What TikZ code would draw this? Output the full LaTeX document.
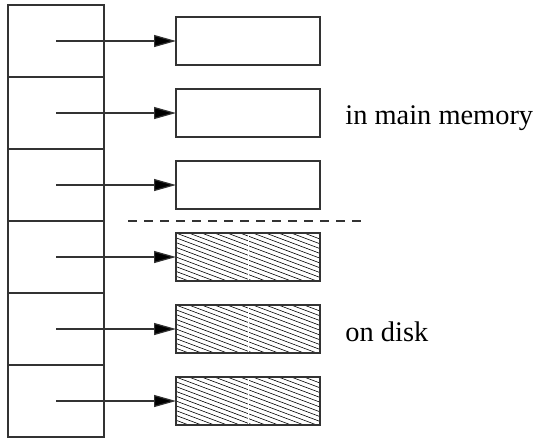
\documentclass[tikz,border=0pt]{standalone}
\usepackage{fontspec}
\setmainfont{Liberation Serif}
\usepackage{tikz}
\usetikzlibrary{arrows.meta, positioning}

\begin{document}
\begin{tikzpicture}[
  x=0.5pt, y=-0.5pt,
  every node/.style={font=\fontsize{14.2}{17}\selectfont},
  cell/.style={draw, black!80, line width=0.6pt, minimum width=48pt, minimum height=36pt,
    inner sep=0pt, outer sep=0pt},
  block/.style={draw, black!80, line width=0.6pt, minimum width=72pt, minimum height=24pt,
    inner sep=0pt, outer sep=0pt},
  hatched/.style={block, path picture={
    \foreach \k in {-12,...,15}
      \draw[black, line width=0.3pt]
        ([yshift=\k*2.4pt]path picture bounding box.north west) -- ++(80pt,-30pt);
    \draw[white, line width=0.5pt]
      (path picture bounding box.north) -- (path picture bounding box.south);
  }},
  ptr/.style={black!80, line width=0.6pt, -{Triangle[length=11pt, width=6pt, fill=black]}},
]
\useasboundingbox (0,0) rectangle (534,440);

% Index column
\foreach \i in {1,...,6}
  \node[cell] (c\i) at (56,{5+72*(\i-0.5)}) {};

% Blocks in memory
\foreach \i in {1,2,3}
  \node[block] (b\i) at (248,{5+72*(\i-0.5)}) {};

% Blocks on disk
\foreach \i in {4,5,6}
  \node[hatched] (b\i) at (248,{5+72*(\i-0.5)}) {};

% Pointers
\foreach \i in {1,...,6}
  \draw[ptr] (c\i.center) -- (b\i.west);

% Separator
\draw[black!80, dash pattern=on 4.5pt off 3.5pt, line width=0.6pt] (128,221) -- (368,221);

% Labels
\node[anchor=base west, inner sep=0pt] (mem) at (345,124) {in main memory};
\node[anchor=base west, inner sep=0pt] (disk) at (345,341) {on disk};

\end{tikzpicture}
\end{document}
